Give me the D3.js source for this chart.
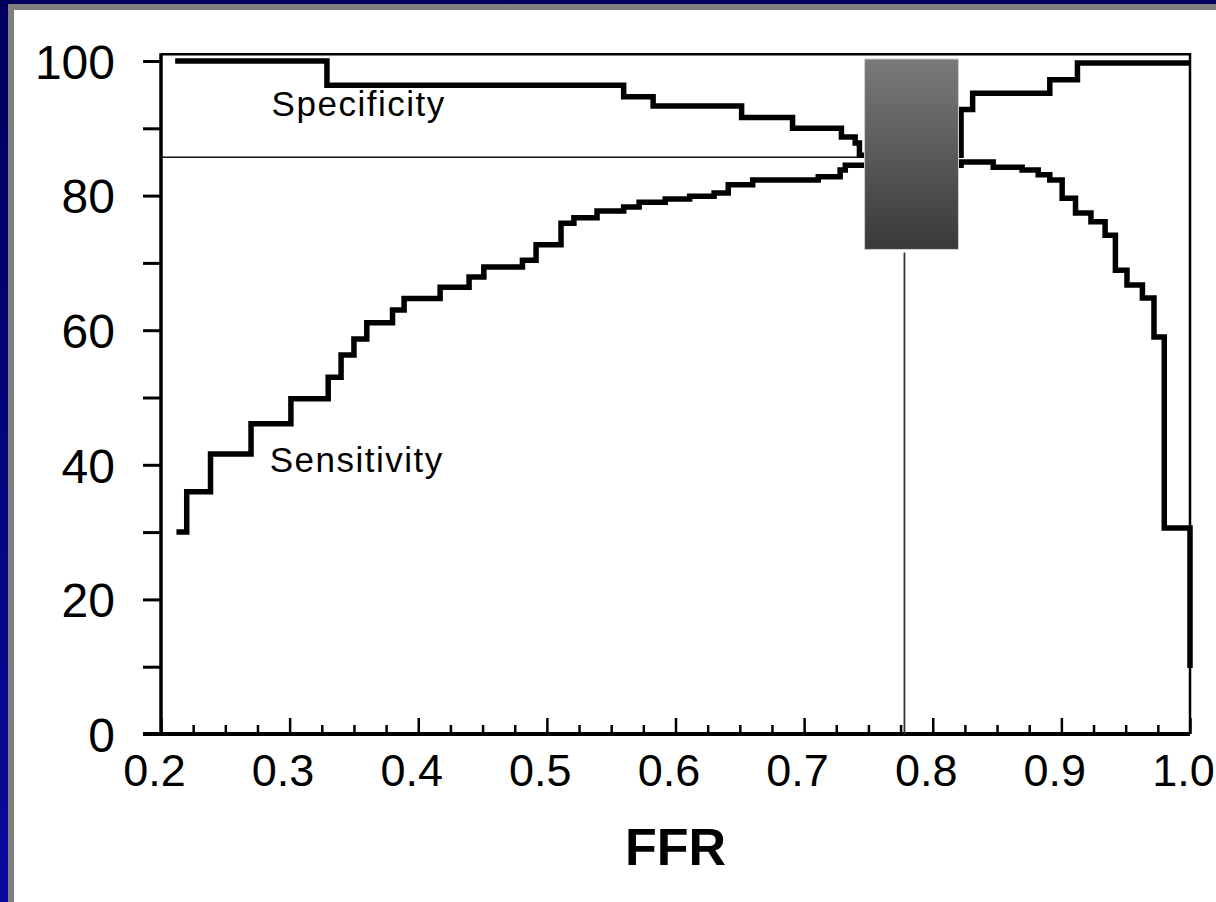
<!DOCTYPE html>
<html>
<head>
<meta charset="UTF-8">
<script src="https://d3js.org/d3.v7.min.js"></script>
<style>
  body { margin: 0; background: #fff; }
  svg { display: block; }
  text { font-family: "Liberation Sans", Arial, sans-serif; fill: #000; }
  .label { font-size: 35px; letter-spacing: 1.5px; }
</style>
</head>
<body>
<svg width="1216" height="902"></svg>
<script>
// step curves: [FFR, %]
const sensitivity = [
  [0.212, 30.0], [0.220, 36.0], [0.2385, 41.6], [0.270, 46.1], [0.301, 49.8],
  [0.330, 53.0], [0.340, 56.3], [0.350, 58.7], [0.360, 61.1], [0.380, 63.0],
  [0.389, 64.7], [0.417, 66.4], [0.4395, 67.9], [0.451, 69.4], [0.481, 70.4],
  [0.4916, 72.7], [0.511, 75.9], [0.521, 76.7], [0.539, 77.7], [0.5597, 78.3],
  [0.5717, 79.0], [0.592, 79.5], [0.611, 79.9], [0.630, 80.4], [0.641, 81.6],
  [0.660, 82.3], [0.711, 82.8], [0.728, 83.8], [0.732, 84.5], [0.822, 85.0],
  [0.847, 84.2], [0.8695, 83.8], [0.882, 83.1], [0.891, 82.3], [0.9006, 79.6],
  [0.911, 77.4], [0.923, 76.1], [0.934, 74.1], [0.942, 68.9], [0.951, 66.7],
  [0.963, 64.8], [0.972, 59.0], [0.980, 30.6], [1.0, 9.8]
];
const specificity = [
  [0.211, 100.0], [0.329, 96.4], [0.5597, 94.7], [0.5826, 93.3], [0.6514, 91.6],
  [0.691, 90.0], [0.729, 88.7], [0.7397, 87.8], [0.743, 86.0], [0.822, 92.8],
  [0.831, 95.2], [0.891, 97.2], [0.9125, 99.7], [1.0, 99.7]
];
const cutoffFFR = 0.778;
const cutoffValue = 85.7;
const greyZoneFFR = [0.747, 0.820];
const greyZoneValue = [72, 100.3];
const xTickValues = [0.2, 0.3, 0.4, 0.5, 0.6, 0.7, 0.8, 0.9, 1.0];
const yTickValues = [0, 10, 20, 30, 40, 50, 60, 70, 80, 90, 100];
const curveLabels = [
  { text: "Specificity", ffr: 0.286, value: 91.9 },
  { text: "Sensitivity", ffr: 0.2845, value: 38.9 }
];

const svg = d3.select("svg"),
      width = +svg.attr("width"),
      height = +svg.attr("height");

const x = d3.scaleLinear().domain([0.2, 1.0]).range([161, 1190]);
const y = d3.scaleLinear().domain([0, 100]).range([734, 61]);

// slide frame: dark blue top/left with a grey edge
const defs = svg.append("defs");
const bg = defs.append("linearGradient").attr("id", "bg")
  .attr("x1", 0).attr("y1", 0).attr("x2", 0).attr("y2", 1);
bg.append("stop").attr("offset", 0).attr("stop-color", "#00005c");
bg.append("stop").attr("offset", 1).attr("stop-color", "#0a0a9c");
const zone = defs.append("linearGradient").attr("id", "zone")
  .attr("x1", 0).attr("y1", 0).attr("x2", 0).attr("y2", 1);
zone.append("stop").attr("offset", 0).attr("stop-color", "#7a7a7a");
zone.append("stop").attr("offset", 1).attr("stop-color", "#393939");

svg.append("rect").attr("width", width).attr("height", height).attr("fill", "url(#bg)");
svg.append("rect").attr("x", 8).attr("y", 4).attr("width", width).attr("height", height).attr("fill", "#808080");
svg.append("rect").attr("x", 14).attr("y", 10).attr("width", width).attr("height", height).attr("fill", "#fff");

const [x0, x1] = x.range();
const yTop = y(101);

// box: top and right thin, left and bottom axis lines thick
svg.append("path")
  .attr("d", `M${x0},${yTop}H${x1}V${y(0)}`)
  .attr("fill", "none").attr("stroke", "#000").attr("stroke-width", 2.5);

// y axis
const yAxis = svg.append("g")
  .attr("transform", `translate(${x0},0)`)
  .call(d3.axisLeft(y).tickValues(yTickValues).tickSize(18).tickPadding(28)
    .tickFormat(d => d % 20 === 0 ? d : ""));
yAxis.select(".domain").remove();
yAxis.selectAll(".tick line").attr("stroke-width", 3);
yAxis.selectAll("text").style("font-size", "48px").attr("font-family", null).attr("dy", "0.36em");

// x axis: major and minor ticks pointing inside
const xAxis = svg.append("g")
  .attr("transform", `translate(0,${y(0)})`)
  .call(d3.axisBottom(x).tickValues(xTickValues).tickSize(-16).tickPadding(20)
    .tickFormat(d3.format(".1f")));
xAxis.select(".domain").remove();
xAxis.selectAll(".tick line").attr("stroke-width", 2.5);
xAxis.selectAll("text").style("font-size", "45px").attr("font-family", null)
  .attr("dx", -7).attr("dy", "0.71em");

const minor = d3.range(0, 33).map(i => 0.2 + i * 0.025).filter((d, i) => i % 4 !== 0);
const xMinor = svg.append("g")
  .attr("transform", `translate(0,${y(0)})`)
  .call(d3.axisBottom(x).tickValues(minor).tickSize(-9).tickFormat(""));
xMinor.select(".domain").remove();
xMinor.selectAll(".tick line").attr("stroke-width", 2.5);

svg.append("line").attr("x1", x0).attr("x2", x0).attr("y1", yTop - 1).attr("y2", y(0) + 2)
  .attr("stroke", "#000").attr("stroke-width", 3.5);
svg.append("line").attr("x1", x0 - 18).attr("x2", x1).attr("y1", y(0)).attr("y2", y(0))
  .attr("stroke", "#000").attr("stroke-width", 4);

// cut-off reference lines
svg.append("line")
  .attr("x1", x0).attr("x2", x(greyZoneFFR[0]))
  .attr("y1", y(cutoffValue)).attr("y2", y(cutoffValue))
  .attr("stroke", "#111").attr("stroke-width", 1.6);
svg.append("line")
  .attr("x1", x(cutoffFFR)).attr("x2", x(cutoffFFR))
  .attr("y1", y(greyZoneValue[0]) + 3).attr("y2", y(0))
  .attr("stroke", "#333").attr("stroke-width", 1.8);

// curves
const line = d3.line().x(d => x(d[0])).y(d => y(d[1])).curve(d3.curveStepAfter);
svg.selectAll(".curve")
  .data([sensitivity, specificity])
  .enter().append("path")
  .attr("class", "curve")
  .attr("d", line)
  .attr("fill", "none")
  .attr("stroke", "#000")
  .attr("stroke-width", 5.5)
  .attr("stroke-linejoin", "miter");

// grey zone box
svg.append("rect")
  .attr("x", x(greyZoneFFR[0]))
  .attr("y", y(greyZoneValue[1]))
  .attr("width", x(greyZoneFFR[1]) - x(greyZoneFFR[0]))
  .attr("height", y(greyZoneValue[0]) - y(greyZoneValue[1]))
  .attr("fill", "url(#zone)")
  .attr("stroke", "#d0d0d0").attr("stroke-width", 1);

// curve labels
svg.selectAll(".label")
  .data(curveLabels)
  .enter().append("text")
  .attr("class", "label")
  .attr("x", d => x(d.ffr))
  .attr("y", d => y(d.value))
  .text(d => d.text);

// axis title
svg.append("text")
  .attr("x", (x0 + x1) / 2)
  .attr("y", 865)
  .attr("text-anchor", "middle")
  .style("font-size", "52px")
  .style("font-weight", "bold")
  .text("FFR");
</script>
</body>
</html>
